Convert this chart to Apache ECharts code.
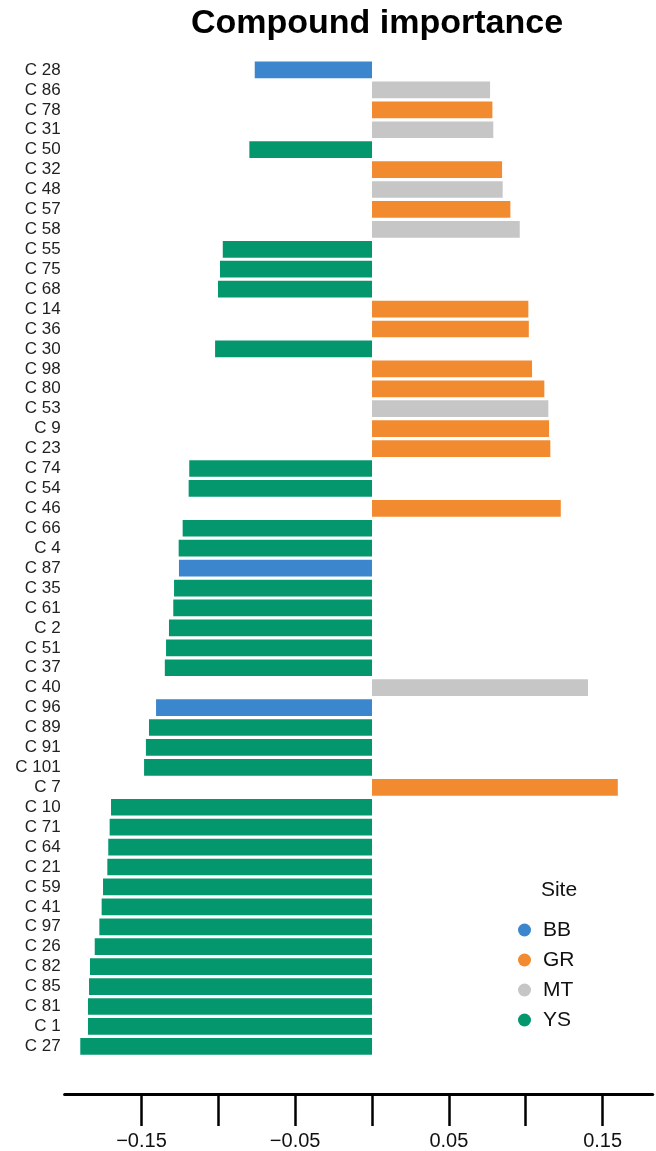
<!DOCTYPE html>
<html>
<head>
<meta charset="utf-8">
<title>Compound importance</title>
<script src="https://cdn.jsdelivr.net/npm/echarts@6/dist/echarts.min.js"></script>
<style>
  html, body { margin: 0; padding: 0; background: #ffffff; }
  #chart { width: 656px; height: 1151px; }
</style>
</head>
<body>
<div id="chart"></div>
<script>
// Compounds, listed top to bottom
const compounds = [
  'C 28', 'C 86', 'C 78', 'C 31', 'C 50', 'C 32', 'C 48', 'C 57', 'C 58', 'C 55',
  'C 75', 'C 68', 'C 14', 'C 36', 'C 30', 'C 98', 'C 80', 'C 53', 'C 9', 'C 23',
  'C 74', 'C 54', 'C 46', 'C 66', 'C 4', 'C 87', 'C 35', 'C 61', 'C 2', 'C 51',
  'C 37', 'C 40', 'C 96', 'C 89', 'C 91', 'C 101', 'C 7', 'C 10', 'C 71', 'C 64',
  'C 21', 'C 59', 'C 41', 'C 97', 'C 26', 'C 82', 'C 85', 'C 81', 'C 1', 'C 27'
];

// Importance score of each compound
const importance = [
  -0.0763, 0.0768, 0.0783, 0.0789, -0.0798, 0.0846, 0.0850, 0.0900, 0.0961, -0.0971,
  -0.0989, -0.1002, 0.1017, 0.1020, -0.1021, 0.1041, 0.1121, 0.1147, 0.1152, 0.1160,
  -0.1189, -0.1193, 0.1228, -0.1232, -0.1258, -0.1256, -0.1288, -0.1293, -0.1321, -0.1340,
  -0.1348, 0.1405, -0.1405, -0.1451, -0.1471, -0.1483, 0.1599, -0.1698, -0.1707, -0.1716,
  -0.1722, -0.1750, -0.1759, -0.1774, -0.1804, -0.1835, -0.1841, -0.1848, -0.1848, -0.1898
];

// Site where each compound matters
const siteOf = [
  'BB', 'MT', 'GR', 'MT', 'YS', 'GR', 'MT', 'GR', 'MT', 'YS',
  'YS', 'YS', 'GR', 'GR', 'YS', 'GR', 'GR', 'MT', 'GR', 'GR',
  'YS', 'YS', 'GR', 'YS', 'YS', 'BB', 'YS', 'YS', 'YS', 'YS',
  'YS', 'MT', 'BB', 'YS', 'YS', 'YS', 'GR', 'YS', 'YS', 'YS',
  'YS', 'YS', 'YS', 'YS', 'YS', 'YS', 'YS', 'YS', 'YS', 'YS'
];

const sites = ['BB', 'GR', 'MT', 'YS'];
const siteColors = ['#3b86cd', '#f28a30', '#c6c6c6', '#04976e'];

const tickValues = [-0.15, -0.1, -0.05, 0, 0.05, 0.1, 0.15];
const tickLabels = [-0.15, -0.05, 0.05, 0.15];

const FONT = '"Liberation Sans", Arial, Helvetica, sans-serif';

const chart = echarts.init(document.getElementById('chart'), null, { renderer: 'canvas' });

const series = sites.map((s, k) => ({
  name: s,
  type: 'bar',
  barWidth: 16.7,
  barGap: '-100%',
  itemStyle: { color: siteColors[k] },
  emphasis: { disabled: true },
  data: importance.map((v, i) => (siteOf[i] === s ? v : '-'))
}));

chart.setOption({
  animation: false,
  backgroundColor: '#ffffff',
  title: [
    {
      text: 'Compound importance',
      left: 372,
      top: 2,
      textAlign: 'center',
      textStyle: { fontFamily: FONT, fontSize: 34, fontWeight: 'bold', color: '#000000' }
    },
    {
      text: 'Site',
      left: 554,
      top: 875,
      textAlign: 'center',
      textStyle: { fontFamily: FONT, fontSize: 21, fontWeight: 'normal', color: '#111111' }
    }
  ],
  legend: {
    orient: 'vertical',
    left: 513,
    top: 914,
    icon: 'circle',
    itemWidth: 13,
    itemHeight: 13,
    itemGap: 8,
    data: sites,
    selectedMode: false,
    textStyle: {
      fontFamily: FONT,
      fontSize: 21,
      lineHeight: 22,
      color: '#111111',
      padding: [0, 0, 0, 7]
    }
  },
  grid: {
    left: 64.6,
    right: 3.3,
    top: 60,
    height: 996.6,
    containLabel: false
  },
  xAxis: {
    type: 'value',
    min: -0.2,
    max: 0.1826,
    interval: 0.05,
    offset: 37.7,
    splitLine: { show: false },
    axisLine: { show: true, lineStyle: { color: '#000000', width: 3 } },
    axisTick: {
      show: true,
      length: 32,
      lineStyle: { color: '#000000', width: 2.5 },
      customValues: tickValues
    },
    axisLabel: {
      margin: 37,
      fontFamily: FONT,
      fontSize: 20,
      color: '#111111',
      customValues: tickLabels,
      formatter: v => v.toFixed(2).replace('-', '\u2212')
    }
  },
  yAxis: {
    type: 'category',
    inverse: true,
    data: compounds,
    axisLine: { show: false, onZero: false },
    axisTick: { show: false },
    splitLine: { show: false },
    axisLabel: {
      margin: 4,
      fontFamily: FONT,
      fontSize: 17,
      color: '#222222',
      interval: 0
    }
  },
  series: series
});
</script>
</body>
</html>
